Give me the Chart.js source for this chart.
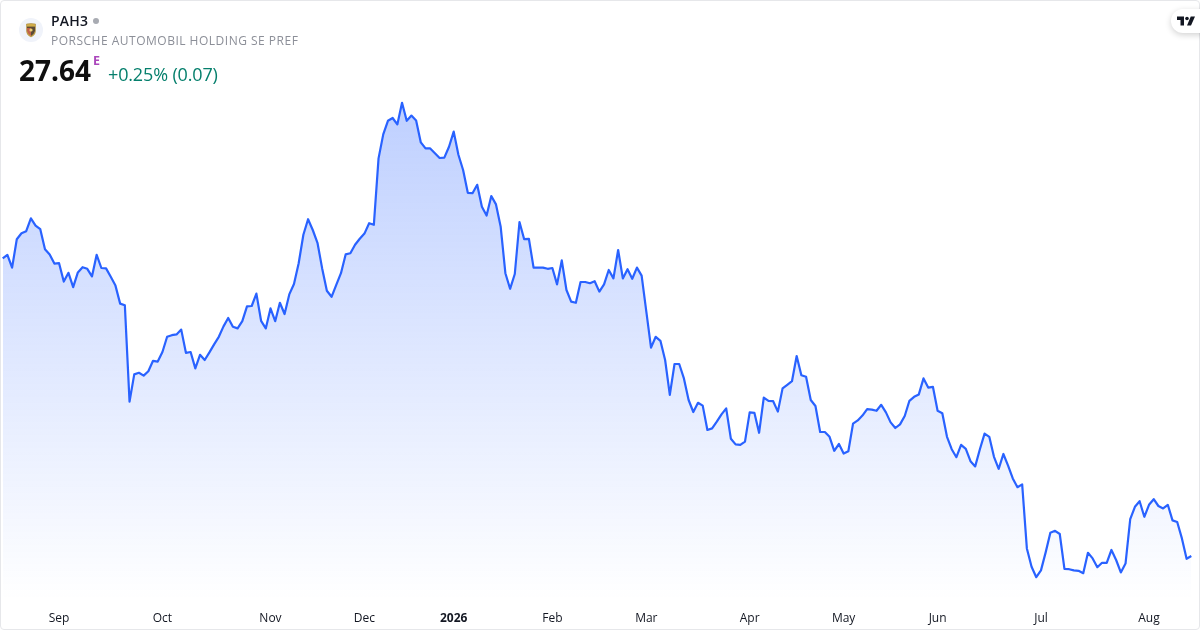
<!DOCTYPE html>
<html>
<head>
<meta charset="utf-8">
<title>PAH3</title>
<script src="https://cdn.jsdelivr.net/npm/chart.js@4"></script>
<style>
  html, body { margin: 0; padding: 0; background: #fff; }
  body { width: 1200px; height: 630px; overflow: hidden; position: relative; font-family: "Open Sans", sans-serif; }
  #chartBox { position: absolute; left: 0; top: 0; width: 1200px; height: 630px; }
  #frame { position: absolute; left: 0; top: 0; width: 1198px; height: 628px; border: 1px solid #e6e7ea; border-radius: 4px; pointer-events: none; }
  .txt { position: absolute; white-space: nowrap; line-height: 1; }
  #logo { position: absolute; left: 19px; top: 18px; width: 24px; height: 24px; border-radius: 50%; background: #f0f3fa; }
  #sym { left: 51px; top: 14px; font-size: 14px; font-weight: 600; color: #131722; letter-spacing: 0.2px; }
  #dot { position: absolute; left: 93px; top: 18px; width: 6px; height: 6px; border-radius: 50%; background: #a8abb2; }
  #name { left: 51px; top: 35px; font-size: 12px; color: #8c8f98; letter-spacing: 0.5px; }
  #price { left: 19px; top: 56px; font-size: 28px; font-weight: 700; color: #0f0f0f; }
  #flag { left: 93px; top: 55px; font-size: 12.5px; font-weight: 700; color: #ab47bc; }
  #change { left: 108px; top: 65px; font-size: 18px; color: #057f6c; letter-spacing: -0.15px; }
  #tv { position: absolute; left: 1171px; top: 9px; width: 44px; height: 24px; border-radius: 12px; background: #fff; box-shadow: 0 2px 6px rgba(0,0,0,.18); }
</style>
</head>
<body>
<div id="chartBox"><canvas id="myChart" width="1200" height="630"></canvas></div>
<div id="frame"></div>
<div id="logo">
  <svg width="24" height="24" viewBox="0 0 24 24">
    <path d="M7.5 6 Q12 5 16.5 6 L16.5 13 Q16.5 17 12 19 Q7.5 17 7.5 13 Z" fill="#d2ae4a" stroke="#9a7c30" stroke-width=".5"/>
    <path d="M8 8.6 H16 V10 H8 Z" fill="#5a4a36"/>
    <path d="M8 10 H12 V18 Q9 16.5 8 13 Z" fill="#c0624a"/>
    <path d="M12 10 H16 V13 Q15 16.5 12 18 Z" fill="#5a4a36"/>
    <circle cx="12" cy="12" r="1.6" fill="#ecd074"/>
  </svg>
</div>
<div class="txt" id="sym">PAH3</div>
<div id="dot"></div>
<div class="txt" id="name">PORSCHE AUTOMOBIL HOLDING SE PREF</div>
<div class="txt" id="price">27.64</div>
<div class="txt" id="flag">E</div>
<div class="txt" id="change">+0.25% (0.07)</div>
<div id="tv">
  <svg width="18" height="10" viewBox="0 0 36 18" style="position:absolute;left:6px;top:7px">
    <path d="M14 18H7V7H0V0h14v18zM28 18h-8L27.5 0H36l-8 18z" fill="#131722"/>
    <circle cx="20" cy="4" r="3.6" fill="#131722"/>
  </svg>
</div>
<script>
// close prices
const closes = [
  35.08,35.17,34.85,35.56,35.71,35.76,36.08,35.90,35.81,35.31,35.18,34.95,34.96,34.50,34.72,34.36,
  34.73,34.86,34.82,34.63,35.17,34.84,34.83,34.62,34.40,33.95,33.91,31.50,32.18,32.22,32.15,32.26,
  32.52,32.50,32.74,33.12,33.16,33.18,33.30,32.72,32.74,32.33,32.67,32.54,32.73,32.93,33.12,33.38,
  33.59,33.37,33.33,33.51,33.88,33.89,34.20,33.52,33.33,33.83,33.51,33.97,33.69,34.18,34.44,34.96,
  35.67,36.06,35.79,35.47,34.83,34.27,34.12,34.42,34.71,35.18,35.21,35.42,35.57,35.70,35.96,35.92,
  37.58,38.18,38.52,38.59,38.43,38.97,38.52,38.65,38.53,37.98,37.83,37.83,37.71,37.59,37.60,37.87,
  38.25,37.67,37.29,36.72,36.71,36.92,36.37,36.15,36.64,36.43,35.87,34.71,34.32,34.69,35.99,35.56,
  35.57,34.85,34.85,34.85,34.82,34.84,34.43,35.03,34.29,34.00,33.97,34.49,34.49,34.46,34.51,34.25,
  34.43,34.79,34.58,35.29,34.58,34.81,34.57,34.85,34.65,33.75,32.85,33.12,33.02,32.54,31.67,32.44,
  32.44,32.08,31.54,31.24,31.47,31.40,30.79,30.83,31.00,31.18,31.33,30.57,30.43,30.42,30.50,31.23,
  31.22,30.72,31.60,31.52,31.51,31.25,31.83,31.92,32.01,32.64,32.16,32.12,31.54,31.39,30.74,30.74,
  30.62,30.27,30.44,30.20,30.26,30.95,31.03,31.15,31.31,31.30,31.27,31.42,31.23,30.98,30.84,30.93,
  31.14,31.52,31.62,31.68,32.08,31.85,31.87,31.27,31.21,30.62,30.31,30.11,30.42,30.32,30.01,29.88,
  30.31,30.70,30.62,30.12,29.82,30.19,29.90,29.58,29.36,29.43,27.83,27.37,27.11,27.28,27.73,28.22,
  28.27,28.19,27.32,27.31,27.28,27.27,27.21,27.72,27.58,27.36,27.47,27.47,27.79,27.54,27.23,27.45,
  28.56,28.87,29.01,28.62,28.92,29.06,28.89,28.83,28.92,28.53,28.49,28.08,27.57,27.64
];
const tickLabels = ["Sep", "Oct", "Nov", "Dec", "2026", "Feb", "Mar", "Apr", "May", "Jun", "Jul", "Aug"];
const tickIndexes = [12, 34, 57, 77, 96, 117, 137, 159, 179, 199, 221, 244];
const priceMin = 26.54;
const priceMax = 41.54;

const categories = closes.map((c, i) => {
  const k = tickIndexes.indexOf(i);
  return k >= 0 ? tickLabels[k] : "";
});

function fillGradient(context) {
  const chart = context.chart;
  if (!chart.chartArea) return "rgba(41,98,255,0.15)";
  const y = chart.scales.y;
  const g = chart.ctx.createLinearGradient(0, y.getPixelForValue(Math.max(...closes)), 0, chart.chartArea.bottom);
  g.addColorStop(0, "rgba(41,98,255,0.3)");
  g.addColorStop(1, "rgba(41,98,255,0)");
  return g;
}

new Chart(document.getElementById("myChart").getContext("2d"), {
  type: "line",
  data: {
    labels: categories,
    datasets: [{
      label: "PAH3",
      data: closes,
      borderColor: "#2962ff",
      borderWidth: 2.2,
      borderJoinStyle: "round",
      pointRadius: 0,
      tension: 0,
      fill: "start",
      backgroundColor: fillGradient
    }]
  },
  options: {
    responsive: false,
    animation: false,
    devicePixelRatio: 1,
    layout: { padding: { left: 2.7, right: 8.7, top: 0, bottom: 0 } },
    plugins: { legend: { display: false }, tooltip: { enabled: false } },
    scales: {
      x: {
        offset: false,
        grid: { display: false, drawTicks: true, tickLength: 11 },
        border: { display: false },
        afterFit: (axis) => { axis.height = 30; },
        ticks: {
          autoSkip: false,
          maxRotation: 0,
          minRotation: 0,
          padding: 0,
          color: "#131722",
          font: (ctx) => ({
            family: '"Open Sans", sans-serif',
            size: 12,
            weight: ctx.tick && ctx.tick.label === "2026" ? "700" : "400"
          })
        }
      },
      y: {
        display: false,
        min: priceMin,
        max: priceMax
      }
    }
  }
});
</script>
</body>
</html>
